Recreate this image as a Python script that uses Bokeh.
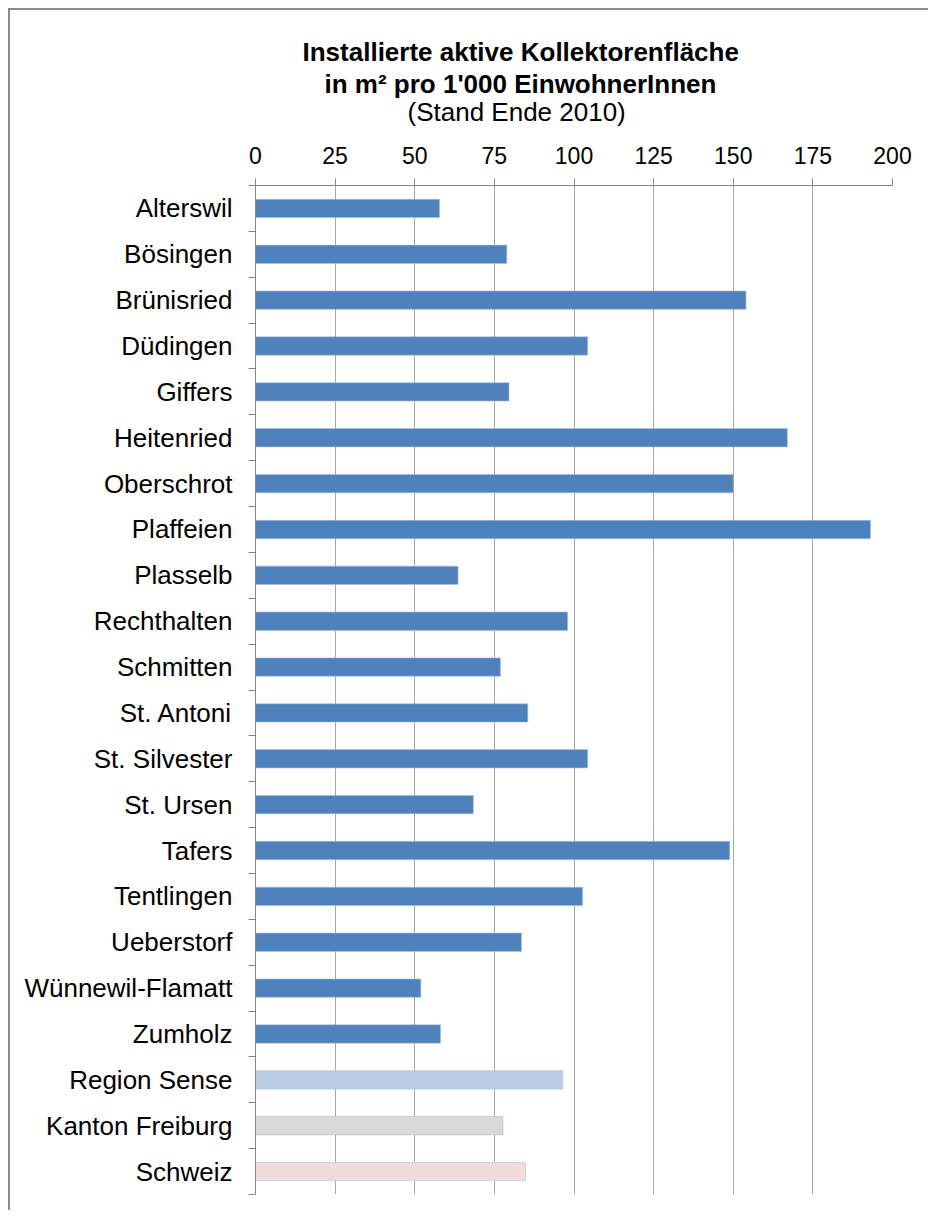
from bokeh.plotting import figure
from bokeh.models import FixedTicker, Range1d, Title, ColumnDataSource, Spacer
from bokeh.layouts import column, row
from bokeh.embed import file_html
from bokeh.resources import INLINE

categories = ["Alterswil", "Bösingen", "Brünisried", "Düdingen", "Giffers",
              "Heitenried", "Oberschrot", "Plaffeien", "Plasselb", "Rechthalten",
              "Schmitten", "St. Antoni", "St. Silvester", "St. Ursen", "Tafers",
              "Tentlingen", "Ueberstorf", "Wünnewil-Flamatt", "Zumholz",
              "Region Sense", "Kanton Freiburg", "Schweiz"]
values = [57.8, 78.9, 154.0, 104.3, 79.6, 167.0, 150.0, 193.1, 63.6, 98.0,
          76.9, 85.5, 104.3, 68.4, 148.9, 102.7, 83.5, 51.9, 58.1,
          96.5, 77.7, 84.8]
colors = ["#4F81BD"] * 19 + ["#B9CDE5", "#D9D9D9", "#F2DCDB"]
x_ticks = [0, 25, 50, 75, 100, 125, 150, 175, 200]
title_lines = ["Installierte aktive Kollektorenfläche",
               "in m² pro 1'000 EinwohnerInnen",
               "(Stand Ende 2010)"]

FONT = "Liberation Sans"
n = len(categories)
pos = list(range(n))

src = ColumnDataSource(dict(y=pos, v=values, c=colors, name=categories))

p = figure(width=918, height=1200, output_backend="svg", toolbar_location=None,
           x_range=Range1d(0, 200), y_range=Range1d(n - 0.5, -0.5),
           x_axis_location="above", min_border_left=245, min_border_right=36,
           min_border_top=175, min_border_bottom=16)
p.outline_line_color = None
p.background_fill_color = "white"
p.border_fill_color = "white"

p.hbar(y="y", right="v", left=0, height=0.4, fill_color="c",
       line_color="#a9c0de", line_width=0.6, source=src)

# x axis (top)
xa = p.xaxis[0]
xa.ticker = FixedTicker(ticks=x_ticks)
xa.axis_line_color = "#868686"
xa.major_tick_line_color = "#868686"
xa.major_tick_out = 7
xa.major_tick_in = 0
xa.minor_tick_line_color = None
xa.major_label_text_font = FONT
xa.major_label_text_font_size = "23px"
xa.major_label_text_color = "#000000"
xa.major_label_standoff = 15

p.xgrid.ticker = FixedTicker(ticks=x_ticks)
p.xgrid.grid_line_color = "#a6a6a6"
p.xgrid.grid_line_width = 1
p.ygrid.grid_line_color = None

# y axis (left): labels at centres, ticks at category boundaries
ya = p.yaxis[0]
ya.ticker = FixedTicker(ticks=pos, minor_ticks=[i - 0.5 for i in range(n + 1)])
ya.major_label_overrides = {i: c for i, c in enumerate(categories)}
ya.axis_line_color = "#868686"
ya.major_tick_line_color = None
ya.major_tick_out = 0
ya.major_tick_in = 0
ya.minor_tick_line_color = "#868686"
ya.minor_tick_out = 7
ya.minor_tick_in = 0
ya.major_label_text_font = FONT
ya.major_label_text_font_size = "26px"
ya.major_label_text_color = "#000000"
ya.major_label_standoff = 16

# spacer between tick labels and the title block
p.add_layout(Title(text=" ", text_font_size="1px", standoff=14), "above")

# (style, left offset from frame, standoff)
specs = [("bold", 47, 7), ("bold", 69, -8), ("normal", 152, 0)]
for txt, (style, off, so) in reversed(list(zip(title_lines, specs))):
    t = Title(text=txt, align="left", text_font=FONT, text_font_size="26px",
              text_font_style=style, standoff=so, offset=off,
              text_color="#000000", text_line_height=1.0)
    p.add_layout(t, "above")

# outer chart border: left and top edges (right/bottom are cropped in the reference)
GRAY = "#8c8c8c"
top_edge = row(Spacer(width=8, height=2),
               Spacer(width=920, height=2, styles={"background-color": GRAY}),
               spacing=0)
body = row(Spacer(width=8, height=1200),
           Spacer(width=2, height=1200, styles={"background-color": GRAY}),
           p, spacing=0)
layout = column(Spacer(width=928, height=8), top_edge, body, spacing=0)

open("out.html", "w").write(file_html(layout, INLINE))
